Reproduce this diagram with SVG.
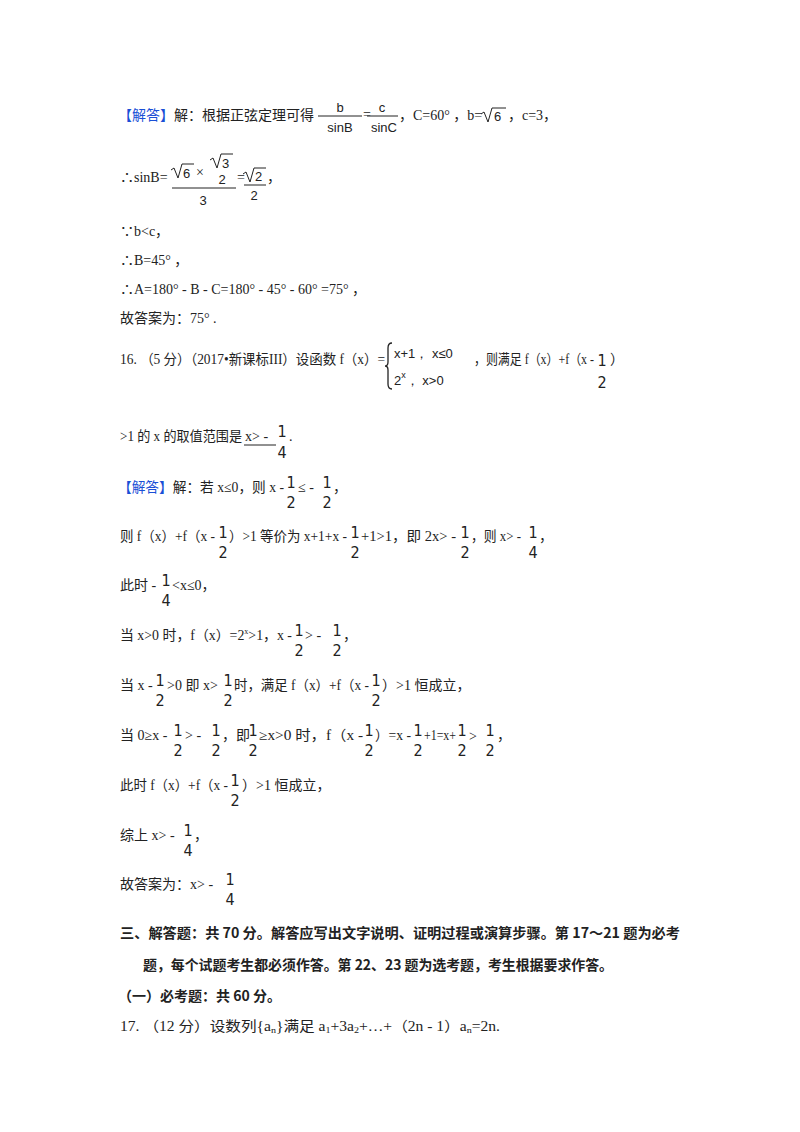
<svg xmlns="http://www.w3.org/2000/svg" width="800" height="1132" viewBox="0 0 800 1132">
<style>
text{font-family:"Liberation Serif","Noto Sans CJK SC",serif;font-size:14px;fill:#222}
.b{fill:#1a4fd6}
.f{font-family:"DejaVu Sans Condensed","Liberation Sans",sans-serif;font-size:16px;text-anchor:middle}
.s{font-family:"Liberation Sans",sans-serif;font-size:13px}
.bold{font-weight:bold;font-family:"Noto Sans CJK SC","Liberation Serif",serif}
line{stroke:#222;stroke-width:1}
</style>
<rect width="800" height="1132" fill="#fff"/>
<g id="p15">
<text x="118" y="120"><tspan class="b">【解答】</tspan>解：根据正弦定理可得</text>
<line x1="318" y1="116" x2="362" y2="116"/><text class="s" x="340" y="112" text-anchor="middle">b</text><text class="s" x="340" y="132" text-anchor="middle">sinB</text>
<text x="363" y="119" font-size="10">=</text>
<line x1="367" y1="116" x2="398" y2="116"/><text class="s" x="382" y="112" text-anchor="middle">c</text><text class="s" x="384" y="132" text-anchor="middle">sinC</text>
<text x="399" y="120">，C=60° ，b=</text>
<path d="M481 114 l3 -2 l4 10 l4 -14 h14" fill="none" stroke="#222"/><text class="s" x="494" y="121">6</text>
<text x="508" y="120">，c=3，</text>
<text x="120" y="182">∴sinB=</text>
<path d="M171 170 l3 -2 l4 10 l4 -14 h12" fill="none" stroke="#222"/><text class="s" x="183" y="178">6</text>
<text x="196" y="177">×</text>
<path d="M210 160 l3 -2 l4 10 l4 -14 h12" fill="none" stroke="#222"/><text class="s" x="222" y="168">3</text>
<text class="s" x="222" y="184" text-anchor="middle">2</text>
<line x1="172" y1="188" x2="236" y2="188"/>
<text class="s" x="203" y="205" text-anchor="middle">3</text>
<text x="237" y="182" font-size="10">=</text>
<path d="M243 174 l3 -2 l4 10 l4 -14 h12" fill="none" stroke="#222"/><text class="s" x="255" y="181">2</text>
<line x1="244" y1="185" x2="266" y2="185"/>
<text class="s" x="254" y="200" text-anchor="middle">2</text>
<text x="267" y="182">，</text>
<text x="120" y="236">∵b&lt;c，</text>
<text x="120" y="265">∴B=45° ，</text>
<text x="120" y="294">∴A=180°  - B - C=180°  - 45°  - 60° =75° ，</text>
<text x="120" y="323">故答案为：75° .</text>
</g>
<g id="p16">
<text x="120" y="364" textLength="265" lengthAdjust="spacingAndGlyphs">16. （5 分）（2017•新课标III）设函数 f（x）=</text>
<path d="M392 343 q-4 0 -4 5 v14 q0 4 -3 4 q3 0 3 4 v14 q0 5 4 5" fill="none" stroke="#222" stroke-width="1.3"/>
<text class="s" x="394" y="358">x+1，  x≤0</text>
<text class="s" x="394" y="385">2<tspan font-size="9" dy="-7">x</tspan><tspan dy="7">，  x&gt;0</tspan></text>
<text x="474" y="364" textLength="120" lengthAdjust="spacingAndGlyphs">，则满足 f（x）+f（x -</text>
<text class="f" x="602" y="366">1</text><text class="f" x="602" y="388">2</text>
<text x="610" y="364">）</text>
<text x="120" y="441" textLength="122" lengthAdjust="spacingAndGlyphs">&gt;1 的 x 的取值范围是</text>
<text x="245" y="441">x&gt; -</text>
<line x1="244" y1="445" x2="276" y2="445"/>
<text class="f" x="282" y="437">1</text><text class="f" x="282" y="458">4</text>
<text x="289" y="441">.</text>
<text x="118" y="492" textLength="166" lengthAdjust="spacingAndGlyphs"><tspan class="b">【解答】</tspan>解：若 x≤0，则 x -</text>
<text class="f" x="291" y="488">1</text><text class="f" x="291" y="508">2</text>
<text x="298" y="492">≤ -</text>
<text class="f" x="327" y="488">1</text><text class="f" x="327" y="508">2</text>
<text x="333" y="492">，</text>
<text x="120" y="541" textLength="95" lengthAdjust="spacingAndGlyphs">则 f（x）+f（x -</text>
<text class="f" x="223" y="538">1</text><text class="f" x="223" y="558">2</text>
<text x="229" y="541" textLength="118" lengthAdjust="spacingAndGlyphs">）&gt;1 等价为 x+1+x -</text>
<text class="f" x="355" y="538">1</text><text class="f" x="355" y="558">2</text>
<text x="361" y="541" textLength="95" lengthAdjust="spacingAndGlyphs">+1&gt;1，即 2x&gt; -</text>
<text class="f" x="465" y="538">1</text><text class="f" x="465" y="558">2</text>
<text x="471" y="541" textLength="50" lengthAdjust="spacingAndGlyphs">，则 x&gt; -</text>
<text class="f" x="533" y="538">1</text><text class="f" x="533" y="558">4</text>
<text x="539" y="541">，</text>
<text x="120" y="590">此时 -</text>
<text class="f" x="166" y="586">1</text><text class="f" x="166" y="606">4</text>
<text x="172" y="590">&lt;x≤0，</text>
<text x="120" y="640" textLength="172" lengthAdjust="spacingAndGlyphs">当 x&gt;0 时，f（x）=2<tspan font-size="8" dy="-6">x</tspan><tspan dy="6">&gt;1，x -</tspan></text>
<text class="f" x="299" y="636">1</text><text class="f" x="299" y="656">2</text>
<text x="305" y="640">&gt; -</text>
<text class="f" x="337" y="636">1</text><text class="f" x="337" y="656">2</text>
<text x="343" y="640">，</text>
<text x="120" y="690">当 x -</text>
<text class="f" x="160" y="686">1</text><text class="f" x="160" y="706">2</text>
<text x="167" y="690">&gt;0 即 x&gt;</text>
<text class="f" x="228" y="686">1</text><text class="f" x="228" y="706">2</text>
<text x="234" y="690" textLength="135" lengthAdjust="spacingAndGlyphs">时，满足 f（x）+f（x -</text>
<text class="f" x="376" y="686">1</text><text class="f" x="376" y="706">2</text>
<text x="382" y="690">）&gt;1 恒成立，</text>
<text x="120" y="740">当 0≥x -</text>
<text class="f" x="178" y="736">1</text><text class="f" x="178" y="756">2</text>
<text x="185" y="740">&gt; -</text>
<text class="f" x="216" y="736">1</text><text class="f" x="216" y="756">2</text>
<text x="222" y="740">，即</text>
<text class="f" x="253" y="736">1</text><text class="f" x="253" y="756">2</text>
<text x="259" y="740" textLength="104" lengthAdjust="spacingAndGlyphs">≥x&gt;0 时，f（x -</text>
<text class="f" x="369" y="736">1</text><text class="f" x="369" y="756">2</text>
<text x="375" y="740" textLength="36" lengthAdjust="spacingAndGlyphs">）=x -</text>
<text class="f" x="418" y="736">1</text><text class="f" x="418" y="756">2</text>
<text x="424" y="740" textLength="32" lengthAdjust="spacingAndGlyphs">+1=x+</text>
<text class="f" x="462" y="736">1</text><text class="f" x="462" y="756">2</text>
<text x="469" y="741" font-size="18">&gt;</text>
<text class="f" x="490" y="736">1</text><text class="f" x="490" y="756">2</text>
<text x="497" y="740">，</text>
<text x="120" y="790" textLength="108" lengthAdjust="spacingAndGlyphs">此时 f（x）+f（x -</text>
<text class="f" x="235" y="786">1</text><text class="f" x="235" y="806">2</text>
<text x="242" y="790">）&gt;1 恒成立，</text>
<text x="120" y="840">综上 x&gt; -</text>
<text class="f" x="188" y="836">1</text><text class="f" x="188" y="856">4</text>
<text x="194" y="840">，</text>
<text x="120" y="889">故答案为：x&gt; -</text>
<text class="f" x="230" y="885">1</text><text class="f" x="230" y="905">4</text>
</g>
<g id="p3">
<text class="bold" x="120" y="938" textLength="560" lengthAdjust="spacingAndGlyphs">三、解答题：共 70 分。解答应写出文字说明、证明过程或演算步骤。第 17～21 题为必考</text>
<text class="bold" x="143" y="970" textLength="470" lengthAdjust="spacingAndGlyphs">题，每个试题考生都必须作答。第 22、23 题为选考题，考生根据要求作答。</text>
<text class="bold" x="118" y="1001">（一）必考题：共 60 分。</text>
<text x="120" y="1031" textLength="380" lengthAdjust="spacingAndGlyphs">17. （12 分）设数列{a<tspan font-size="9" dy="2">n</tspan><tspan dy="-2">}满足 a</tspan><tspan font-size="9" dy="2">1</tspan><tspan dy="-2">+3a</tspan><tspan font-size="9" dy="2">2</tspan><tspan dy="-2">+…+（2n - 1）a</tspan><tspan font-size="9" dy="2">n</tspan><tspan dy="-2">=2n.</tspan></text>
</g>
</svg>
